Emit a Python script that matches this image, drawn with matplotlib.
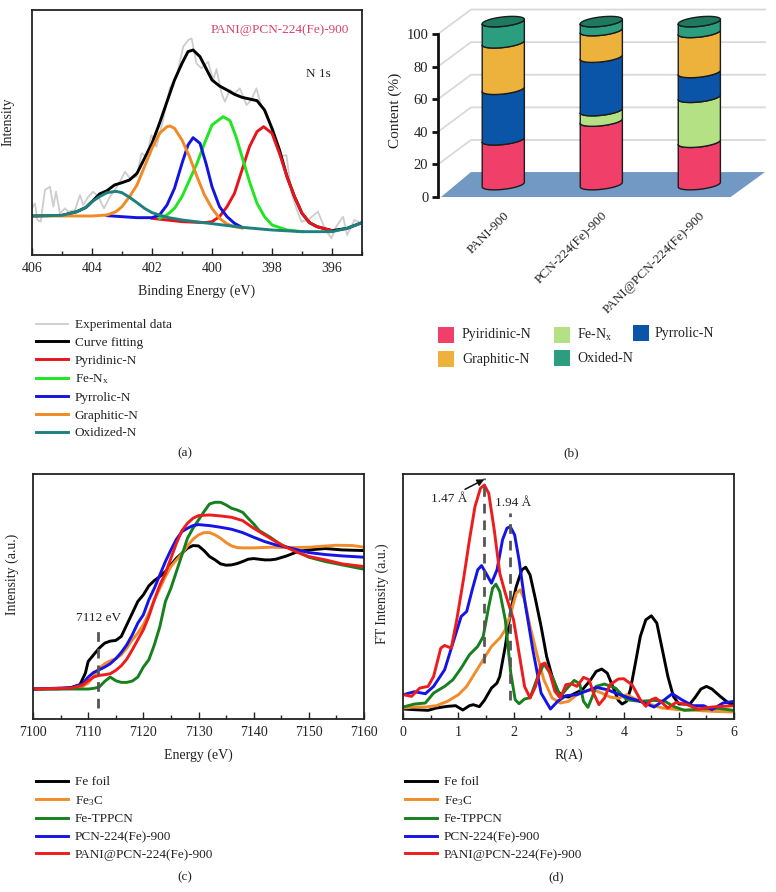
import numpy as np
import matplotlib
matplotlib.use('Agg')
import matplotlib.pyplot as plt
from matplotlib.patches import Polygon, Rectangle

plt.rcParams['font.family'] = ['Liberation Serif', 'DejaVu Serif']
plt.rcParams['mathtext.default'] = 'regular'
plt.rcParams['text.color'] = '#222222'
plt.rcParams['axes.labelcolor'] = '#222222'
plt.rcParams['xtick.color'] = '#222222'
plt.rcParams['ytick.color'] = '#222222'

# (a) N 1s XPS, x in eV, intensity in arbitrary units
exp_x = [406, 405.9, 405.82, 405.71, 405.57, 405.4, 405.29, 405.2, 405.07, 404.9, 404.79, 404.57, 404.4, 404.29, 404.12, 403.96,
         403.79, 403.6, 403.4, 403.24, 403.07, 402.9, 402.74, 402.51, 402.35, 402.18, 402.02, 401.85, 401.63, 401.41, 401.18, 400.96,
         400.79, 400.68, 400.52, 400.35, 400.13, 399.96, 399.85, 399.68, 399.57, 399.41, 399.24, 399.07, 398.85, 398.69, 398.52, 398.35,
         398.19, 397.96, 397.74, 397.52, 397.35, 397.19, 397.02, 396.8, 396.47, 396.24, 396.02, 395.86, 395.63, 395.5, 395.25, 395]
exp_y = [140, 155, 105, 100, 195, 205, 145, 190, 125, 140, 130, 135, 180, 150, 175, 190,
         175, 140, 175, 195, 220, 250, 230, 235, 305, 295, 360, 325, 405, 500, 535, 625,
         645, 650, 575, 560, 580, 525, 558, 485, 460, 495, 485, 500, 450, 465, 500, 445,
         430, 355, 295, 300, 185, 140, 100, 105, 130, 80, 50, 85, 115, 60, 105, 95]
fit_x = [406, 405, 404.5, 404.2, 404, 403.75, 403.5, 403.25, 403, 402.75, 402.5, 402.25, 402, 401.75, 401.5, 401.25, 401, 400.8, 400.63,
         400.4, 400.2, 400, 399.75, 399.5, 399.25, 399, 398.75, 398.5, 398.25, 398, 397.75, 397.5, 397.25, 397, 396.75, 396.5, 396, 395.5, 395]
fit_y = [117, 119, 130, 143, 160, 183, 193, 210, 217, 225, 245, 290, 335, 395, 460, 525, 575, 610, 615,
         595, 560, 525, 507, 495, 482, 473, 468, 463, 435, 380, 315, 235, 175, 125, 97, 85, 73, 80, 97]
pyridinic_x = [402, 401, 400.25, 400, 399.75, 399.5, 399.25, 399, 398.75, 398.5, 398.28, 398, 397.75, 397.5, 397.25, 397, 396.75, 396.5, 396]
pyridinic_y = [110, 100, 97, 100, 115, 145, 185, 255, 325, 370, 385, 365, 305, 235, 175, 125, 97, 85, 73]
fenx_x = [401.75, 401.5, 401.25, 401, 400.75, 400.5, 400.25, 400, 399.63, 399.4, 399.2, 399, 398.75, 398.5, 398.25, 398, 397.5, 397]
fenx_y = [110, 120, 140, 175, 225, 275, 335, 390, 415, 403, 355, 295, 220, 155, 115, 90, 75, 70]
pyrrolic_x = [403.5, 402.5, 402, 401.75, 401.5, 401.25, 401, 400.8, 400.63, 400.4, 400.2, 400, 399.75, 399.5, 399.25, 399]
pyrrolic_y = [118, 112, 112, 120, 150, 200, 275, 330, 352, 335, 275, 205, 145, 115, 95, 83]
graphitic_x = [406, 404, 403.5, 403.2, 403, 402.75, 402.5, 402.25, 402, 401.75, 401.5, 401.4, 401.25, 401, 400.75, 400.5, 400.25, 400, 399.75, 399.5, 399.25, 399]
graphitic_y = [117, 117, 120, 130, 145, 175, 210, 265, 320, 365, 385, 387, 380, 345, 295, 235, 180, 140, 110, 93, 85, 81]
oxidized_x = [406, 405, 404.5, 404.2, 404, 403.75, 403.5, 403.2, 403, 402.75, 402.5, 402.25, 402, 401.5, 401, 400, 399, 398, 397, 396, 395.5, 395]
oxidized_y = [117, 119, 130, 143, 160, 175, 187, 191, 187, 173, 157, 140, 127, 113, 105, 94, 83, 75, 70, 70, 80, 97]

# (b) nitrogen content in %
samples = ['PANI-900', 'PCN-224(Fe)-900', 'PANI@PCN-224(Fe)-900']
species = ['Pyiridinic-N', 'Fe-N$_{x}$', 'Pyrrolic-N', 'Graphitic-N', 'Oxided-N']
content_pyridinic = [27.5, 39, 26]
content_fenx = [0, 6.4, 27.6]
content_pyrrolic = [31, 32.8, 15.2]
content_graphitic = [28.5, 16.3, 24.6]
content_oxided = [13, 5.5, 6.6]

# (c) XANES
foil_e = [7100, 7105, 7107, 7108.5, 7109.5, 7110, 7111, 7112, 7113, 7114, 7115, 7116, 7117, 7118, 7119, 7120, 7121, 7122, 7123, 7124, 7125, 7126, 7127,
          7128, 7129, 7130, 7131, 7132, 7133, 7134, 7135, 7136, 7137, 7138, 7139, 7140, 7142, 7143, 7144, 7146, 7148, 7150, 7153, 7156, 7160]
foil_i = [90, 91, 95, 103, 138, 173, 193, 213, 228, 234, 236, 248, 283, 318, 353, 373, 400, 416, 428, 443, 463, 483, 498,
          513, 521, 520, 506, 488, 478, 466, 462, 463, 467, 473, 480, 482, 478, 478, 480, 490, 503, 508, 512, 508, 506]
fe3c_e = [7100, 7107, 7109, 7110, 7111, 7112, 7113, 7114, 7115, 7116, 7117, 7118, 7119, 7120, 7121, 7122, 7123, 7124, 7125, 7126,
          7127, 7128, 7129, 7130, 7131, 7132, 7133, 7134, 7135, 7136, 7137, 7138, 7140, 7143, 7146, 7150, 7155, 7158, 7160]
fe3c_i = [90, 92, 98, 108, 128, 153, 166, 175, 181, 193, 213, 238, 258, 283, 318, 358, 393, 428, 458, 478,
          496, 520, 540, 553, 560, 560, 553, 543, 530, 520, 515, 514, 514, 516, 515, 516, 522, 521, 516]
tppcn_e = [7100, 7105, 7110, 7111, 7112, 7113, 7114, 7115, 7116, 7117, 7118, 7119, 7120, 7121, 7122, 7123, 7124, 7125, 7126, 7127, 7128,
           7129, 7130, 7131, 7132, 7133, 7134, 7135, 7136, 7137, 7138, 7139, 7140, 7141, 7143, 7145, 7147, 7150, 7153, 7156, 7160]
tppcn_i = [90, 90, 90, 92, 96, 113, 126, 115, 110, 110, 114, 126, 156, 178, 223, 278, 353, 393, 443, 493, 543,
           573, 598, 623, 646, 651, 651, 643, 633, 628, 621, 603, 586, 566, 546, 523, 510, 486, 473, 463, 450]
pcn_e = [7100, 7107, 7109, 7110, 7111, 7112, 7113, 7114, 7115, 7116, 7117, 7118, 7119, 7120, 7121, 7122, 7123, 7124, 7125, 7126, 7127, 7128, 7129, 7130,
         7132, 7134, 7136, 7138, 7140, 7142, 7144, 7146, 7148, 7150, 7153, 7156, 7160]
pcn_i = [90, 94, 106, 126, 140, 148, 156, 166, 181, 200, 223, 253, 288, 313, 358, 393, 433, 473, 508, 540, 563, 573, 581, 584,
         581, 576, 570, 560, 546, 533, 523, 516, 508, 500, 494, 490, 486]
pani_i = [90, 93, 102, 115, 126, 131, 133, 136, 146, 160, 180, 208, 238, 268, 308, 358, 403, 438, 483, 528, 566, 588, 603, 611,
          613, 610, 606, 596, 573, 553, 533, 515, 500, 488, 478, 466, 458]

# (d) EXAFS
foil_r = [0, .2, .45, .6, .8, .95, 1.08, 1.2, 1.27, 1.38, 1.47, 1.6, 1.7, 1.75, 1.85, 1.95, 2.05, 2.15, 2.22, 2.3, 2.4, 2.5, 2.6, 2.7, 2.8, 2.9, 3, 3.1,
          3.25, 3.4, 3.5, 3.6, 3.7, 3.8, 3.9, 3.97, 4.05, 4.12, 4.2, 4.3, 4.4, 4.5, 4.6, 4.7, 4.8, 4.9, 5, 5.2, 5.3, 5.4, 5.5, 5.6, 5.75, 5.9, 6]
foil_ft = [30, 28, 26, 33, 38, 40, 27, 40, 43, 37, 56, 93, 108, 128, 218, 328, 398, 448, 456, 433, 358, 278, 188, 128, 83, 68, 66, 76,
           88, 118, 143, 150, 138, 98, 56, 45, 53, 88, 158, 248, 298, 310, 288, 208, 128, 68, 45, 45, 66, 90, 98, 90, 68, 48, 43]
fe3c_r = [0, .2, .4, .6, .8, 1, 1.15, 1.3, 1.45, 1.6, 1.75, 1.85, 1.95, 2.05, 2.12, 2.2, 2.3, 2.45, 2.55, 2.7, 2.85, 3, 3.15, 3.3, 3.45, 3.6, 3.75, 3.9,
          4.05, 4.3, 4.5, 4.7, 5, 5.3, 5.6, 6]
fe3c_ft = [33, 36, 36, 40, 53, 73, 98, 138, 178, 218, 243, 268, 318, 378, 388, 358, 278, 178, 118, 63, 48, 53, 73, 83, 88, 78, 66, 62,
           73, 53, 43, 33, 28, 26, 23, 21]
tppcn_r = [0, .2, .4, .55, .75, .9, 1.05, 1.2, 1.35, 1.45, 1.55, 1.62, 1.68, 1.75, 1.85, 1.95, 2.03, 2.1, 2.2, 2.3, 2.42, 2.55, 2.7, 2.85, 2.95, 3.1, 3.2,
           3.27, 3.35, 3.42, 3.5, 3.65, 3.85, 4.05, 4.3, 4.55, 4.75, 4.9, 5.1, 5.4, 5.7, 6]
tppcn_ft = [36, 45, 48, 78, 98, 118, 153, 193, 218, 248, 338, 393, 405, 383, 298, 138, 58, 46, 60, 64, 118, 166, 128, 68, 88, 116, 106,
            53, 35, 63, 98, 105, 93, 58, 53, 56, 53, 38, 26, 30, 32, 26]
pcn_r = [0, .2, .4, .55, .75, .9, 1.05, 1.15, 1.25, 1.35, 1.42, 1.5, 1.6, 1.7, 1.8, 1.88, 1.94, 2.02, 2.1, 2.2, 2.35, 2.5, 2.67, 2.8, 2.95, 3.15, 3.35,
         3.5, 3.7, 3.9, 4.1, 4.3, 4.55, 4.7, 4.88, 5.05, 5.25, 5.45, 5.6, 5.8, 6]
pcn_ft = [73, 82, 76, 98, 148, 228, 308, 323, 388, 448, 461, 438, 408, 448, 538, 573, 578, 553, 478, 358, 208, 78, 30, 53, 70, 73, 86,
          95, 88, 75, 63, 53, 36, 53, 76, 58, 40, 40, 28, 48, 53]
pani_r = [0, .15, .3, .45, .55, .68, .75, .87, .97, 1.1, 1.2, 1.3, 1.4, 1.47, 1.55, 1.65, 1.75, 1.85, 2, 2.1, 2.2, 2.3, 2.4, 2.5, 2.57, 2.65, 2.75, 2.85,
          2.95, 3.05, 3.15, 3.27, 3.37, 3.45, 3.55, 3.65, 3.75, 3.9, 4, 4.15, 4.3, 4.4, 4.5, 4.58, 4.7, 4.8, 4.95, 5.15, 5.35, 5.6, 6]
pani_ft = [73, 68, 93, 98, 128, 213, 221, 213, 298, 428, 538, 638, 693, 703, 678, 568, 438, 378, 298, 198, 98, 63, 98, 163, 168, 143, 83, 63,
           103, 106, 98, 125, 118, 78, 43, 63, 103, 120, 121, 103, 58, 38, 58, 63, 48, 33, 50, 43, 30, 36, 40]

W, H = 776, 892
FS = 9.5
LW = 2.1
fig = plt.figure(figsize=(W / 100, H / 100), dpi=100)


def box(left, top, right, bottom):
    return fig.add_axes([left / W, 1 - bottom / H, (right - left) / W, (bottom - top) / H])


def fx(x):
    return x / W


def fy(y):
    return 1 - y / H


def curve_ax(ax, xlim, ylim, major, minor):
    ax.set_xlim(xlim)
    ax.set_ylim(ylim)
    ax.set_yticks([])
    ax.set_xticks(major)
    ax.set_xticks(minor, minor=True)
    ax.tick_params(axis='x', which='major', direction='in', length=5, width=1, labelsize=FS + 0.5, pad=5)
    ax.tick_params(axis='x', which='minor', direction='in', length=3, width=1)
    for s in ax.spines.values():
        s.set_linewidth(1.3)
        s.set_color('#222222')


def line_legend(ax, left, top):
    ax.legend(loc='upper left', bbox_to_anchor=(fx(left), fy(top)), bbox_transform=fig.transFigure, frameon=False,
              fontsize=FS, handlelength=2.4, handletextpad=0.55, labelspacing=0.42, borderpad=0, borderaxespad=0)


# panel a
ax = box(32, 10, 362, 255)
ax.plot(exp_x, exp_y, color='#cdcdcd', lw=1.3, label='Experimental data')
ax.plot(fit_x, fit_y, color='black', lw=LW, label='Curve fitting')
ax.plot(pyridinic_x, pyridinic_y, color='#e8141c', lw=LW, label='Pyridinic-N')
ax.plot(fenx_x, fenx_y, color='#1fe61f', lw=LW, label='Fe-N$_{x}$')
ax.plot(pyrrolic_x, pyrrolic_y, color='#1414e0', lw=LW, label='Pyrrolic-N')
ax.plot(graphitic_x, graphitic_y, color='#f08a24', lw=LW, label='Graphitic-N')
ax.plot(oxidized_x, oxidized_y, color='#1f8080', lw=LW, label='Oxidized-N')
curve_ax(ax, (406, 395), (0, 735), [406, 404, 402, 400, 398, 396], [405, 403, 401, 399, 397, 395])
ax.set_xlabel('Binding Energy (eV)', fontsize=FS + 0.5, labelpad=7)
ax.set_ylabel('Intensity', fontsize=FS + 0.5)
ax.yaxis.set_label_coords(-0.054, 0.545)
ax.text(0.75, 0.92, 'PANI@PCN-224(Fe)-900', color='#d8426a', fontsize=FS, transform=ax.transAxes, ha='center', va='center')
ax.text(0.867, 0.74, 'N 1s', fontsize=FS, transform=ax.transAxes, ha='center', va='center')
line_legend(ax, 36, 319)

# panel b: pseudo 3D stacked cylinders, y in %
ax = box(438, 9.55, 765, 197)
ax.set_xlim(-0.666, 2.67)
ax.set_ylim(0, 115)
depth_x, depth_y = 0.337, 15
for v in [20, 40, 60, 80, 100]:
    ax.plot([-0.666, -0.666 + depth_x, 2.67], [v, v + depth_y, v + depth_y], color='#d9d9d9', lw=1.3, zorder=1, clip_on=False)
ax.add_patch(Polygon([(-0.635, 0), (2.32, 0), (2.67, 15.3), (-0.33, 15.3)], facecolor='#7199c3', edgecolor='none', zorder=2))

stack = [content_pyridinic, content_fenx, content_pyrrolic, content_graphitic, content_oxided]
seg_colors = ['#f0406a', '#b4e184', '#0a55a8', '#edb23c', '#2a9e7e']
bar_w, ell_h, tilt, lift = 0.43, 2.9, 1.4, 7.6
t = np.linspace(0, np.pi, 40)
for i in range(len(samples)):
    bottom = lift
    for vals, col in zip(stack, seg_colors):
        top = bottom + vals[i]
        if vals[i] > 0:
            xs = i + bar_w / 2 * np.cos(t)
            low = bottom - ell_h * np.sin(t) + tilt * np.cos(t)
            high = top - ell_h * np.sin(t) + tilt * np.cos(t)
            pts = np.r_[np.c_[xs, low], np.c_[xs, high][::-1]]
            ax.add_patch(Polygon(pts, closed=True, facecolor=col, edgecolor='#1c1c1c', lw=1, zorder=3, joinstyle='round'))
        bottom = top
    t2 = np.linspace(0, 2 * np.pi, 80)
    ax.add_patch(Polygon(np.c_[i + bar_w / 2 * np.cos(t2), bottom + ell_h * np.sin(t2) + tilt * np.cos(t2)],
                         closed=True, facecolor='#1d7a5f', edgecolor='#1c1c1c', lw=1, zorder=4))

for s in ['top', 'right', 'bottom']:
    ax.spines[s].set_visible(False)
ax.spines['left'].set_bounds(0, 100)
ax.spines['left'].set_linewidth(2)
ax.spines['left'].set_color('#111111')
ax.set_yticks([0, 20, 40, 60, 80, 100])
ax.tick_params(axis='y', direction='out', length=4, width=2, labelsize=FS + 1, pad=3, color='#111111')
ax.set_xticks(range(3))
ax.set_xticklabels(samples, rotation=45, ha='right', rotation_mode='anchor', fontsize=FS)
ax.tick_params(axis='x', length=0, pad=9)
ax.set_ylabel('Content (%)', fontsize=FS + 1.5)
ax.yaxis.set_label_coords(-0.11, 0.46)

swatch_x = [438, 554, 633, 438, 554]
swatch_y = [327, 327, 325, 351, 350]
label_x = [462, 577, 655, 462, 577]
for j in range(5):
    fig.add_artist(Rectangle((fx(swatch_x[j]), fy(swatch_y[j] + 16)), 16 / W, 16 / H, transform=fig.transFigure,
                             facecolor=seg_colors[j], edgecolor='none'))
    fig.text(fx(label_x[j]), fy(swatch_y[j] + 8), species[j], fontsize=FS + 0.5, va='center', ha='left')

# panel c
ax = box(33, 474, 364, 719)
ax.plot(foil_e, foil_i, color='black', lw=LW, label='Fe foil')
ax.plot(fe3c_e, fe3c_i, color='#f08c2a', lw=LW, label='Fe$_{3}$C')
ax.plot(tppcn_e, tppcn_i, color='#16801e', lw=LW, label='Fe-TPPCN')
ax.plot(pcn_e, pcn_i, color='#1414e6', lw=LW, label='PCN-224(Fe)-900')
ax.plot(pcn_e, pani_i, color='#ee1c1c', lw=LW, label='PANI@PCN-224(Fe)-900')
curve_ax(ax, (7100, 7160), (0, 736), [7100, 7110, 7120, 7130, 7140, 7150, 7160], [7105, 7115, 7125, 7135, 7145, 7155])
ax.plot([7111.8, 7111.8], [33, 273], color='#555555', lw=2, dashes=(3.5, 2.5))
ax.text(7111.9, 303, '7112 eV', fontsize=FS, ha='center', va='center')
ax.set_xlabel('Energy (eV)', fontsize=FS + 0.5, labelpad=7)
ax.set_ylabel('Intensity (a.u.)', fontsize=FS + 0.5)
ax.yaxis.set_label_coords(-0.042, 0.59)
line_legend(ax, 36, 776)

# panel d
ax = box(403.3, 474, 734, 719)
ax.plot(foil_r, foil_ft, color='black', lw=LW, label='Fe foil')
ax.plot(fe3c_r, fe3c_ft, color='#f08c2a', lw=LW, label='Fe$_{3}$C')
ax.plot(tppcn_r, tppcn_ft, color='#16801e', lw=LW, label='Fe-TPPCN')
ax.plot(pcn_r, pcn_ft, color='#1414e6', lw=LW, label='PCN-224(Fe)-900')
ax.plot(pani_r, pani_ft, color='#ee1c1c', lw=LW, label='PANI@PCN-224(Fe)-900')
curve_ax(ax, (0, 6), (0, 736), [0, 1, 2, 3, 4, 5, 6], [0.5, 1.5, 2.5, 3.5, 4.5, 5.5])
ax.plot([1.47, 1.47], [168, 723], color='#555555', lw=2, dashes=(3.5, 2.5))
ax.plot([1.93, 1.93], [58, 618], color='#555555', lw=2, dashes=(3.5, 2.5))
ax.annotate('', xy=(1.47, 720), xytext=(1.12, 690), arrowprops=dict(arrowstyle='-|>', color='#111111', lw=1.1, shrinkA=0, shrinkB=0))
ax.text(0.84, 660, '1.47 Å', fontsize=FS, ha='center', va='center')
ax.text(2.0, 650, '1.94 Å', fontsize=FS, ha='center', va='center')
ax.set_xlabel('R(A)', fontsize=FS + 0.5, labelpad=7)
ax.set_ylabel('FT Intensity (a.u.)', fontsize=FS + 0.5)
ax.yaxis.set_label_coords(-0.044, 0.51)
line_legend(ax, 405, 776)

for lab, x, y in [('(a)', 185, 453), ('(b)', 571, 453), ('(c)', 185, 877), ('(d)', 556, 877)]:
    fig.text(fx(x), fy(y), lab, fontsize=FS, ha='center', va='center')

fig.savefig('out.png', dpi=100)
